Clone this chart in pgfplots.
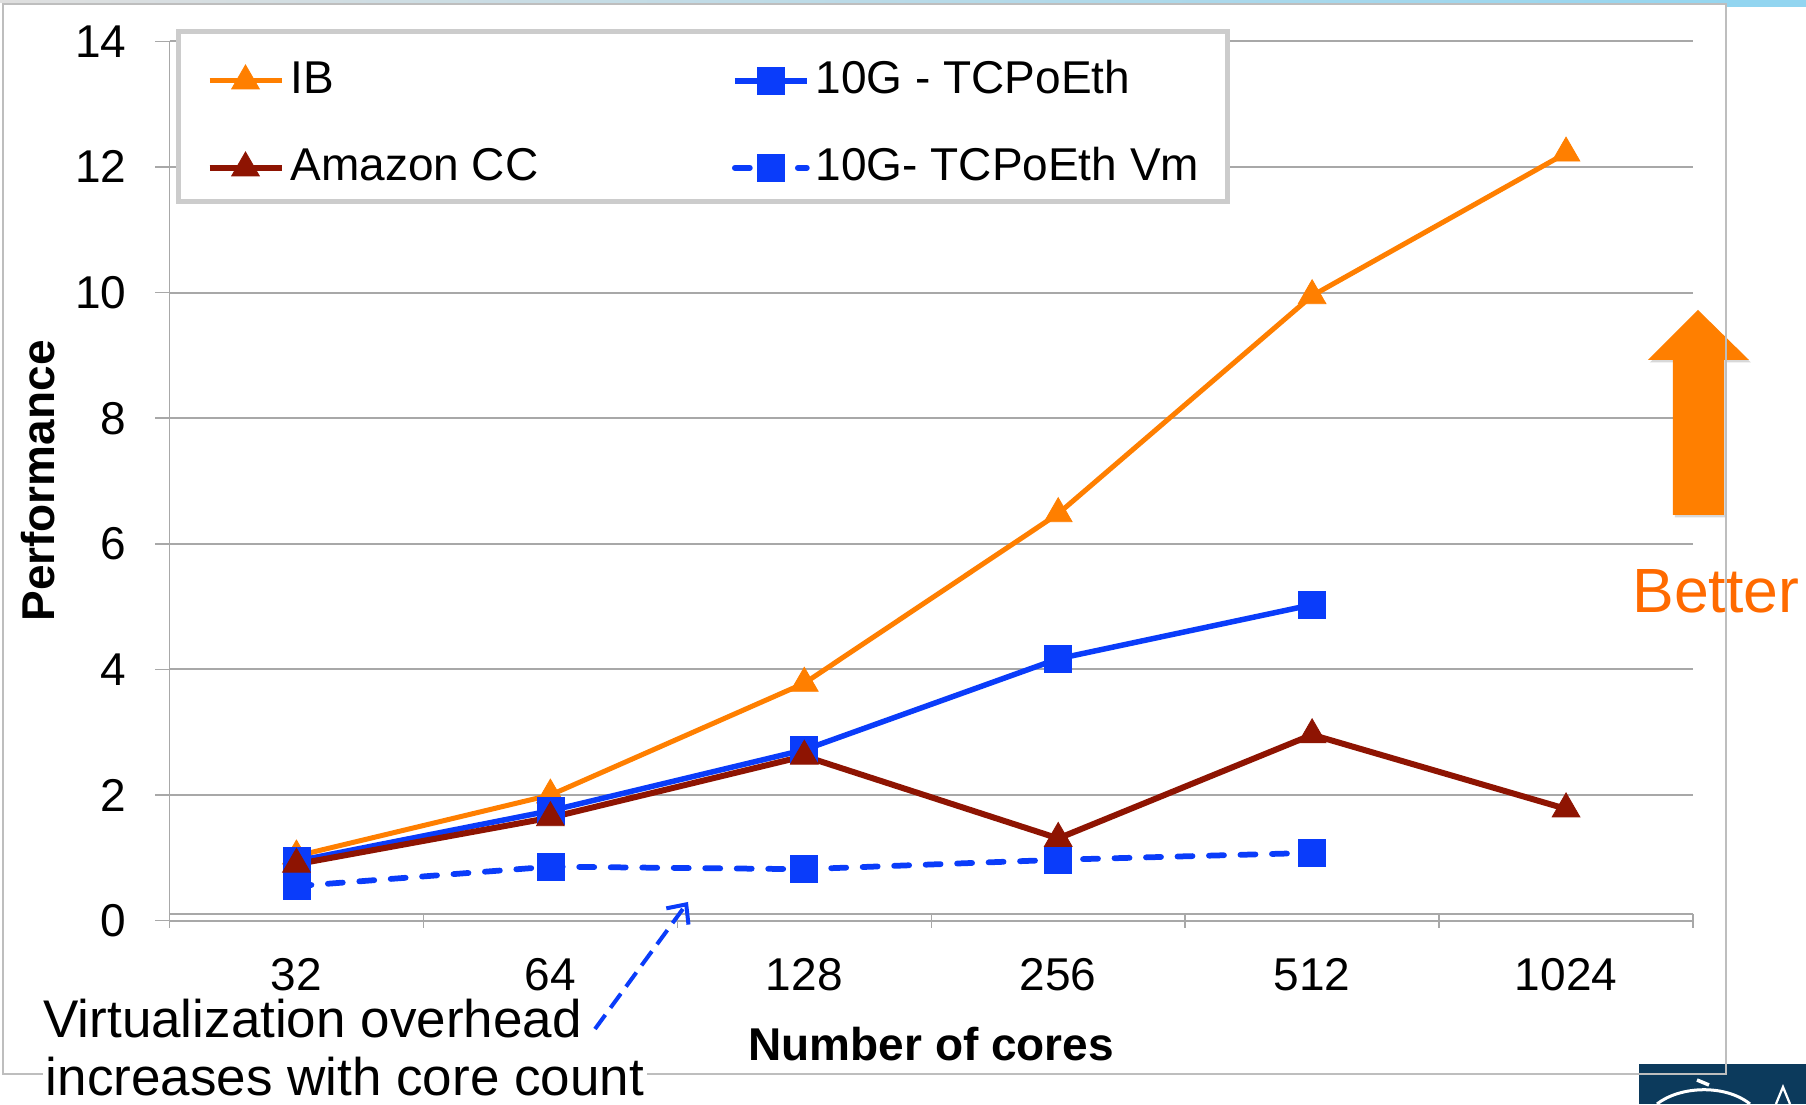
\documentclass[border=0pt]{standalone}
\usepackage{fontspec}
\setmainfont{Liberation Sans}
\usepackage{pgfplots}
\pgfplotsset{compat=1.18}
\usetikzlibrary{arrows.meta,shadows}

\definecolor{ibOrange}{RGB}{255,127,0}
\definecolor{amzRed}{RGB}{142,20,2}
\definecolor{tcpBlue}{RGB}{10,60,250}
\definecolor{gridGray}{RGB}{168,168,168}
\definecolor{frameGray}{RGB}{190,190,190}
\definecolor{legendGray}{RGB}{204,204,204}
\definecolor{betterText}{RGB}{255,106,0}
\definecolor{skyBand}{RGB}{146,213,240}
\definecolor{logoNavy}{RGB}{12,58,92}

\pgfplotsset{
  ibStyle/.style={color=ibOrange, line width=2pt, mark=triangle*, mark size=6.4pt,
    mark options={solid, line width=0.3pt}},
  amzStyle/.style={color=amzRed, line width=2.4pt, mark=triangle*, mark size=6.4pt,
    mark options={solid, line width=0.3pt}},
  tcpStyle/.style={color=tcpBlue, line width=2.2pt, mark=square*, mark size=5.4pt,
    mark options={solid, line width=0.3pt}},
  vmStyle/.style={color=tcpBlue, line width=2.3pt, line cap=round,
    dash pattern=on 6pt off 6.6pt, mark=square*, mark size=5.4pt,
    mark options={solid, line width=0.3pt}},
}

\begin{document}
\begin{tikzpicture}
\path[use as bounding box] (0,0) rectangle (722.4pt,441.6pt);

% slide background, logo corner
\begin{scope}[x=0.4pt,y=-0.4pt,yshift=441.6pt]
  \fill[white] (0,0) rectangle (1806,1104);
  \shade[left color=gray!25, right color=skyBand] (0,0) rectangle (1806,3);
  \fill[skyBand] (1727,0) rectangle (1806,7);
  \fill[logoNavy] (1639,1064) rectangle (1806,1104);
  \draw[white, line width=1.2pt] (1657,1104) .. controls (1680,1086) and (1725,1084) .. (1750,1104);
  \draw[white, line width=1.4pt] (1697,1080) -- (1709,1085);
  \draw[white, line width=0.9pt] (1776,1104) -- (1783,1087) -- (1790,1104);
\end{scope}

\begin{axis}[
  at={(67.8pt,73.32pt)}, anchor=south west,
  scale only axis, width=609.4pt, height=351.76pt,
  xmin=-0.5, xmax=5.5, ymin=0, ymax=14,
  axis x line*=bottom, axis y line*=left,
  axis line style={gridGray, line width=0.6pt},
  xtick={-0.5,0.5,...,5.5},
  xticklabels={32,64,128,256,512,1024},
  x tick label as interval,
  ytick={0,2,...,14},
  ymajorgrids,
  grid style={gridGray, line width=0.8pt},
  tick align=outside,
  major tick length=5.6pt,
  tick style={gridGray, line width=0.6pt},
  xtick style={yshift=2.8pt},
  /pgf/number format/assume math mode=true,
  ticklabel style={font=\fontsize{18.4}{22}\selectfont, inner sep=0pt},
  yticklabel style={xshift=-11.4pt},
  xticklabel style={yshift=-9.4pt},
  xlabel={Number of cores},
  ylabel={Performance},
  label style={font=\bfseries\fontsize{18.4}{22}\selectfont},
  xlabel style={at={(axis description cs:0.5,-0.1584)}, anchor=base},
  ylabel style={at={(axis description cs:-0.0863,0.5)}, anchor=center},
  legend columns=2,
  legend cell align=left,
  legend style={
    at={(0.00427,1.0135)}, anchor=north west,
    draw=legendGray, line width=2pt, fill=white,
    inner xsep=11.2pt, inner ysep=1.6pt,
    row sep=4.8pt, column sep=2.4pt,
    font=\fontsize{18.4}{22}\selectfont,
    nodes={text height=23.2pt, text depth=6.8pt, inner sep=0pt, anchor=west},
    /tikz/every even column/.append style={column sep=77.4pt},
  },
  legend image code/.code={
    \draw[mark repeat=2,mark phase=2] plot coordinates {(0pt,-3pt)(14.4pt,-3pt)(28.8pt,-3pt)};
  },
]
% legend entries, listed row by row
\addlegendimage{ibStyle}\addlegendentry{IB}
\addlegendimage{tcpStyle}\addlegendentry{10G - TCPoEth}
\addlegendimage{amzStyle}\addlegendentry{Amazon CC}
\addlegendimage{vmStyle}\addlegendentry{10G- TCPoEth Vm}

% second baseline of the category axis
\draw[gridGray, line width=0.6pt] (axis cs:-0.5,0.107) -- (axis cs:5.5,0.107);

\addplot[ibStyle, forget plot] coordinates {(0,1.03) (1,2.0) (2,3.78) (3,6.48) (4,9.95) (5,12.22)};
\addplot[tcpStyle, forget plot] coordinates {(0,0.95) (1,1.75) (2,2.72) (3,4.17) (4,5.03)};
\addplot[vmStyle, forget plot] coordinates {(0,0.55) (1,0.86) (2,0.82) (3,0.97) (4,1.08)};
\addplot[amzStyle, forget plot] coordinates {(0,0.9) (1,1.64) (2,2.62) (3,1.31) (4,2.96) (5,1.78)};
\end{axis}

\begin{scope}[x=0.4pt,y=-0.4pt,yshift=441.6pt]
  % "better" direction marker
  \fill[ibOrange, drop shadow={shadow xshift=0.8pt, shadow yshift=-1pt, opacity=0.3}]
    (1698,310) -- (1749,360) -- (1724,360) -- (1724,515) -- (1673,515) -- (1673,360) -- (1648,360) -- cycle;
  \node[anchor=base west, inner sep=0pt, text=betterText, font=\fontsize{25}{30}\selectfont] at (1632,613) {Better};
  % chart panel frame
  \draw[frameGray, line width=1pt] (3,4) rectangle (1726,1074);
  % annotation
  \draw[tcpBlue, line width=1.6pt, dash pattern=on 7pt off 3.5pt,
    -{Straight Barb[length=6pt,width=11pt]}] (595,1029) -- (688,902);
  \node[anchor=base west, inner sep=0pt, font=\fontsize{21.2}{23.2}\selectfont] at (43,1038) {Virtualization overhead};
  \node[anchor=base west, inner xsep=1pt, inner ysep=0pt, text depth=0pt, fill=white,
    font=\fontsize{21.2}{23.2}\selectfont] at (43,1096) {increases with core count};
\end{scope}
\end{tikzpicture}
\end{document}
